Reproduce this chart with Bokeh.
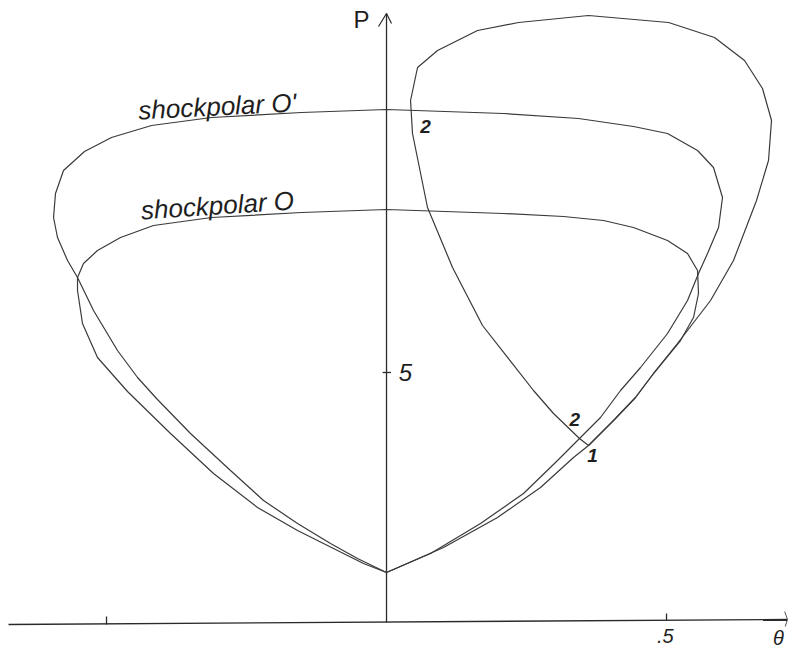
from bokeh.plotting import figure
from bokeh.models import Range1d
from bokeh.core.properties import value
from bokeh.embed import file_html
from bokeh.resources import INLINE

# ---- data (theta, P) ----
# shock polar O (upstream state, P=1 at theta=0)
polar_o_theta = [0.0, -0.0411, -0.0875, -0.1589, -0.2304, -0.3089, -0.3857, -0.4625,
                 -0.5161, -0.5429, -0.5518, -0.5518, -0.5411, -0.5161, -0.475, -0.4161,
                 -0.3125, -0.1518, 0.0, 0.2089, 0.3161, 0.3875, 0.4411, 0.5018, 0.5375,
                 0.5554, 0.5571, 0.5482, 0.525, 0.4768, 0.4446, 0.4054, 0.3607, 0.3339,
                 0.275, 0.1982, 0.1018, 0.0]
polar_o_p = [1.00, 1.18, 1.44, 1.84, 2.30, 2.98, 3.78, 4.62,
             5.30, 5.98, 6.64, 6.90, 7.18, 7.44, 7.70, 7.94,
             8.10, 8.20, 8.26, 8.18, 8.12, 8.04, 7.90, 7.64, 7.38,
             7.04, 6.58, 6.10, 5.64, 4.98, 4.50, 4.04, 3.54, 3.30,
             2.70, 2.10, 1.50, 1.00]

# shock polar O'
polar_o2_theta = [0.0, -0.0518, -0.1, -0.1589, -0.2196, -0.2786, -0.35, -0.4107, -0.4446,
                  -0.4804, -0.5232, -0.5518, -0.5696, -0.5875, -0.5946, -0.5911, -0.5768,
                  -0.5393, -0.4911, -0.4196, -0.3125, -0.1518, 0.0, 0.2089, 0.3429, 0.4411,
                  0.5018, 0.5554, 0.5839, 0.6, 0.5929, 0.5732, 0.5571, 0.5375, 0.5018,
                  0.4536, 0.4179, 0.3821, 0.3446, 0.3054, 0.2446, 0.1679, 0.0786, 0.0]
polar_o2_p = [1.00, 1.28, 1.58, 1.98, 2.44, 3.04, 3.78, 4.48, 4.90,
              5.44, 6.24, 6.90, 7.24, 7.70, 8.10, 8.58, 9.04,
              9.42, 9.70, 9.94, 10.10, 10.20, 10.26, 10.18, 10.08, 9.92,
              9.78, 9.44, 9.10, 8.50, 7.90, 7.38, 6.98, 6.44, 5.78,
              5.10, 4.64, 4.10, 3.68, 3.24, 2.58, 1.98, 1.38, 1.00]

# reflected shock polar, based at point 1
polar_r_theta = [0.3607, 0.3446, 0.2982, 0.2625, 0.1714, 0.1179, 0.0732, 0.0464, 0.0429,
                 0.0554, 0.0911, 0.1625, 0.2357, 0.3607, 0.5036, 0.5857, 0.6393, 0.6714,
                 0.6875, 0.6821, 0.6607, 0.6196, 0.5786, 0.5196, 0.4768, 0.4446, 0.4054,
                 0.3607]
polar_r_p = [3.54, 3.68, 4.18, 4.64, 5.94, 7.10, 8.30, 9.78, 10.44,
             11.10, 11.44, 11.84, 12.00, 12.14, 12.00, 11.70, 11.24, 10.68,
             10.04, 9.24, 8.44, 7.24, 6.44, 5.58, 4.98, 4.50, 4.04,
             3.54]

# axes
x_axis_theta = [-0.675, 0.716]
x_axis_p = [-0.04, 0.06]
y_axis_theta = [0.0, 0.0]
y_axis_p = [0.0, 12.18]
y_arrow_theta = [-0.0143, 0.0, 0.0089]
y_arrow_p = [11.92, 12.18, 11.98]
x_arrow_theta = [0.711, 0.716, 0.712]
x_arrow_p = [0.22, 0.06, -0.08]
x_tick_theta = [-0.5, 0.5]
x_tick_p0 = [-0.04, 0.04]
x_tick_p1 = [0.12, 0.18]
y_tick_p = [5.0]

# labels
polar_labels = ["shockpolar O'", "shockpolar O"]
polar_label_theta = [-0.302, -0.302]
polar_label_p = [10.32, 8.34]
polar_label_angle = [0.05, 0.065]

point_labels = ["2", "2", "1"]
point_label_theta = [0.0696, 0.336, 0.368]
point_label_p = [9.92, 4.06, 3.34]

axis_labels = [".5", "θ"]
axis_label_theta = [0.498, 0.70]
axis_label_p = [-0.27, -0.30]

BG = "white"
INK = "#3a3a3a"
TXT = "#1e1e1e"

p = figure(width=789, height=650,
           x_range=Range1d(-0.6893, 0.7196), y_range=Range1d(-0.56, 12.44),
           output_backend="svg", toolbar_location=None, min_border=0,
           x_axis_location=None, y_axis_location=None,
           background_fill_color=BG, border_fill_color=BG)
p.grid.visible = False
p.outline_line_color = None

# axes
p.line(x_axis_theta, x_axis_p, line_color="#2a2a2a", line_width=1.4)
p.line(y_axis_theta, y_axis_p, line_color="#2a2a2a", line_width=1.3)
p.line(y_arrow_theta, y_arrow_p, line_color="#2a2a2a", line_width=1.2)
p.line(x_arrow_theta, x_arrow_p, line_color="#555555", line_width=1.0)
p.segment(x0=x_tick_theta, y0=x_tick_p0, x1=x_tick_theta, y1=x_tick_p1,
          line_color="#2a2a2a", line_width=1.3)
p.segment(x0=[-0.007], y0=y_tick_p, x1=[0.008], y1=y_tick_p,
          line_color="#2a2a2a", line_width=1.3)

# polars
p.line(polar_o_theta, polar_o_p, line_color=INK, line_width=1.2)
p.line(polar_o2_theta, polar_o2_p, line_color=INK, line_width=1.2)
p.line(polar_r_theta, polar_r_p, line_color=INK, line_width=1.2)

# text
font = value("Liberation Sans")
p.text(x=polar_label_theta, y=polar_label_p, text=polar_labels, angle=polar_label_angle,
       text_font=font, text_font_style="italic", text_font_size="26px",
       text_color=TXT, text_align="center", text_baseline="alphabetic")
p.text(x=[-0.0446], y=[12.06], text=["P"], text_font=font, text_font_size="24px",
       text_color=TXT, text_align="center", text_baseline="middle")
p.text(x=[0.022], y=[5.0], text=["5"], text_font=font, text_font_style="italic",
       text_font_size="24px", text_color=TXT, text_align="left", text_baseline="middle")
p.text(x=axis_label_theta, y=axis_label_p, text=axis_labels, text_font=font,
       text_font_style="italic", text_font_size="20px", text_color=TXT,
       text_align="center", text_baseline="middle")
p.text(x=point_label_theta, y=point_label_p, text=point_labels, text_font=font,
       text_font_style="bold italic", text_font_size="19px", text_color=TXT,
       text_align="center", text_baseline="middle")

open("out.html", "w").write(file_html(p, INLINE))
